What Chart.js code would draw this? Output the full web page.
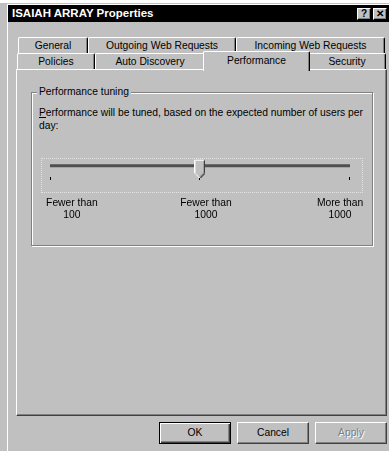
<!DOCTYPE html>
<html><head><meta charset="utf-8">
<script src="https://cdn.jsdelivr.net/npm/chart.js@4.4.1/dist/chart.umd.min.js"></script>
<style>
html,body{margin:0;padding:0;background:#fff;width:389px;height:451px;overflow:hidden;font-family:"Liberation Sans",Arial,sans-serif;font-size:10.3px;color:#000;}
div,span{box-sizing:border-box;}
.a{position:absolute;}
#dlg{left:0;top:3px;width:389px;height:448px;background:#c0c0c0;}
#hl{left:7px;top:5px;width:1px;height:446px;background:#fff;}
#hlt{left:7px;top:4px;width:382px;height:1px;background:#fff;}
#title{left:8px;top:5px;width:381px;height:17px;background:#000;color:#fff;font-weight:bold;font-size:11.5px;line-height:17px;padding-left:4px;}
.tb{width:14px;height:12px;top:8px;background:#c0c0c0;border-top:1px solid #fff;border-left:1px solid #fff;border-right:1px solid #000;border-bottom:1px solid #000;box-shadow:inset -1px -1px #808080;color:#000;font-weight:bold;font-size:10px;line-height:10px;text-align:center;}
.tab{background:#c0c0c0;border-left:1px solid #fff;border-top:1px solid #fff;border-right:1px solid #000;box-shadow:inset -1px 0 #808080;border-top-left-radius:2px;border-top-right-radius:2px;text-align:center;line-height:16px;white-space:nowrap;}
#panel{left:16px;top:69px;width:371px;height:347px;background:#c0c0c0;border-left:1px solid #fff;border-top:1px solid #fff;border-right:1px solid #404040;border-bottom:1px solid #404040;box-shadow:inset -1px -1px #808080;}
#group{left:31px;top:92px;width:342px;height:154px;border:1px solid #808080;box-shadow:inset 1px 1px #fff,1px 1px #fff;}
#glabel{left:37px;top:85px;background:#c0c0c0;padding:0 2px;line-height:13px;white-space:nowrap;}
#para{left:39px;top:106px;width:334px;line-height:13px;background:linear-gradient(#000,#000) no-repeat;background-size:7px 1px;background-position:0 11px;}
#focus{left:41px;top:158px;width:322px;height:35px;border:1px dotted #e4e4e4;}
#wrap{left:31px;top:126px;width:342px;height:100px;}
.btn{top:422px;width:72px;height:22px;background:#c0c0c0;border-top:1px solid #fff;border-left:1px solid #fff;border-right:1px solid #404040;border-bottom:1px solid #404040;box-shadow:inset -1px -1px #808080;text-align:center;line-height:19px;}
#ok{border:1px solid #000;box-shadow:inset 1px 1px #fff,inset -1px -1px #404040,inset -2px -2px #808080;}
#apply{color:#808080;text-shadow:1px 1px 0 #fff;}
</style></head>
<body>
<div id="dlg" class="a"></div>
<div id="hl" class="a"></div>
<div id="hlt" class="a"></div>
<div id="title" class="a">ISAIAH ARRAY Properties</div>
<div class="a tb" style="left:357px;">?</div>
<div class="a tb" style="left:373px;">✕</div>

<div class="a tab" style="left:18px;top:37px;width:70px;height:16px;">General</div>
<div class="a tab" style="left:88px;top:37px;width:148px;height:16px;">Outgoing Web Requests</div>
<div class="a tab" style="left:236px;top:37px;width:149px;height:16px;">Incoming Web Requests</div>

<div id="panel" class="a"></div>
<div class="a tab" style="left:17px;top:53px;width:78px;height:16px;">Policies</div>
<div class="a tab" style="left:95px;top:53px;width:110px;height:16px;">Auto Discovery</div>
<div class="a tab" style="left:308px;top:53px;width:78px;height:16px;">Security</div>
<div class="a tab" style="left:203px;top:51px;width:107px;height:20px;line-height:17px;">Performance</div>

<div id="group" class="a"></div>
<div id="glabel" class="a">Performance tuning</div>
<div id="para" class="a">Performance will be tuned, based on the expected number of users per day:</div>
<div id="focus" class="a"></div>
<div id="wrap" class="a"><canvas id="c" width="342" height="100"></canvas></div>

<div id="ok" class="a btn" style="left:159px;">OK</div>
<div class="a btn" style="left:237px;">Cancel</div>
<div id="apply" class="a btn" style="left:315px;">Apply</div>

<script>
// Slider stops (categories), their labels and the selected stop
const categories = ['Fewer than 100', 'Fewer than 1000', 'More than 1000'];
const tickLabels = [['Fewer than', '100'], ['Fewer than', '1000'], ['More than', '1000']];
const selectedIndex = 1;

function makeThumb() {
  const c = document.createElement('canvas');
  c.width = 11; c.height = 24;
  const g = c.getContext('2d');
  const t = 6;
  g.fillStyle = '#c0c0c0';
  g.beginPath(); g.moveTo(0, t); g.lineTo(11, t); g.lineTo(11, t + 13); g.lineTo(5.5, t + 18.5); g.lineTo(0, t + 13); g.closePath(); g.fill();
  g.lineWidth = 1;
  g.strokeStyle = '#fff';
  g.beginPath(); g.moveTo(0.5, t + 13); g.lineTo(0.5, t + 0.5); g.lineTo(10, t + 0.5); g.stroke();
  g.beginPath(); g.moveTo(0.5, t + 13.5); g.lineTo(5, t + 18); g.stroke();
  g.strokeStyle = '#808080';
  g.beginPath(); g.moveTo(9.5, t + 1); g.lineTo(9.5, t + 13); g.lineTo(5.5, t + 17); g.stroke();
  g.strokeStyle = '#000';
  g.beginPath(); g.moveTo(10.5, t); g.lineTo(10.5, t + 13.5); g.lineTo(5.5, t + 18.5); g.stroke();
  return c;
}

new Chart(document.getElementById('c'), {
  type: 'scatter',
  data: {
    datasets: [
      { label: 'track', data: categories.map((c, i) => ({ x: i, y: 0 })), showLine: true,
        borderColor: '#505050', borderWidth: 3, borderCapStyle: 'square', pointRadius: 0, order: 2 },
      { label: 'thumb', data: [{ x: selectedIndex, y: 0 }], pointStyle: makeThumb(), pointRadius: 5, order: 1, clip: false }
    ]
  },
  options: {
    responsive: false, animation: false, events: [],
    layout: { padding: { left: 19, right: 21, top: 3, bottom: 5 } },
    plugins: { legend: { display: false }, tooltip: { enabled: false } },
    scales: {
      x: { type: 'linear', position: 'bottom', min: 0, max: categories.length - 1,
        afterFit: s => { s.height = 3; },
        grid: { display: true, drawOnChartArea: false, drawTicks: true, tickLength: 3, color: '#000' },
        border: { display: false }, ticks: { display: false, stepSize: 1 } },
      xl: { type: 'linear', position: 'bottom', min: -0.163, max: 2.074,
        afterFit: s => { s.height = 41; },
        grid: { display: false }, border: { display: false },
        afterBuildTicks: s => { s.ticks = categories.map((c, i) => ({ value: i })); },
        ticks: { padding: 9, color: '#000', maxRotation: 0, autoSkip: false,
          font: { family: 'Liberation Sans', size: 10.3, lineHeight: 1.2 },
          callback: v => tickLabels[v] } },
      y: { display: false, min: -1, max: 3 }
    }
  }
});
</script>
</body></html>
